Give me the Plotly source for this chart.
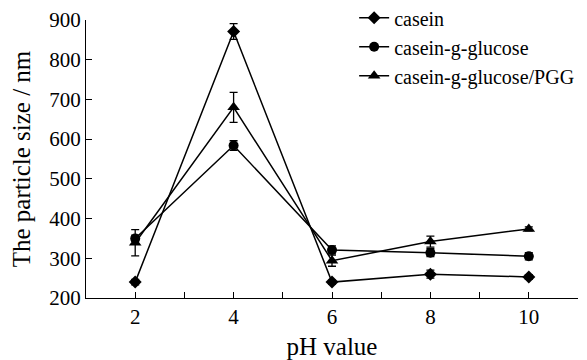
import plotly.graph_objects as go

ph = [2, 4, 6, 8, 10]
casein = [240, 871, 240, 260, 253]
casein_err = [7, 20, 5, 10, 6]
glucose = [350, 584, 321, 314, 305]
glucose_err = [8, 12, 10, 10, 9]
pgg = [339, 680, 294, 342, 374]
pgg_err = [33, 38, 14, 14, 5]

names = ["casein", "casein-g-glucose", "casein-g-glucose/PGG"]
symbols = ["diamond", "circle", "triangle-up"]
sizes = [10, 10, 11]

fig = go.Figure()
for name, ys, err, sym, sz in zip(names, [casein, glucose, pgg],
                                   [casein_err, glucose_err, pgg_err], symbols, sizes):
    fig.add_trace(go.Scatter(
        x=ph, y=ys, name=name, mode="lines+markers",
        line=dict(color="black", width=1.5),
        marker=dict(symbol=sym, size=sz, color="black"),
        error_y=dict(type="data", array=err, visible=True, color="black",
                     thickness=1.3, width=4),
    ))

font = dict(family="Liberation Serif, Times New Roman, serif", size=21, color="black")

# page body has an 8px default margin: size the figure to the visible area
fig.update_layout(
    width=579, height=352,
    margin=dict(l=78, r=9, t=12, b=62, autoexpand=False),
    paper_bgcolor="white", plot_bgcolor="white",
    font=font,
    showlegend=True,
    legend=dict(x=0.545, y=1.078, xanchor="left", yanchor="top",
                bgcolor="rgba(0,0,0,0)", font=dict(font, size=20), tracegroupgap=0,
                itemwidth=30),
    xaxis=dict(range=[1, 11], tickmode="array",
               tickvals=[2, 3, 4, 5, 6, 7, 8, 9, 10, 11],
               ticktext=["2", "", "4", "", "6", "", "8", "", "10", ""],
               ticks="inside", ticklen=6, tickwidth=1.3, tickcolor="black",
               showline=True, linecolor="black", linewidth=1.3,
               showgrid=False, zeroline=False, automargin=False,
               title=dict(text="pH value", standoff=18)),
    yaxis=dict(range=[200, 900], dtick=100, tick0=200,
               ticks="inside", ticklen=6, tickwidth=1.3, tickcolor="black",
               showline=True, linecolor="black", linewidth=1.3,
               showgrid=False, zeroline=False, automargin=False,
               title=dict(text="The particle size / nm", standoff=16)),
)

fig.write_html("out.html")
